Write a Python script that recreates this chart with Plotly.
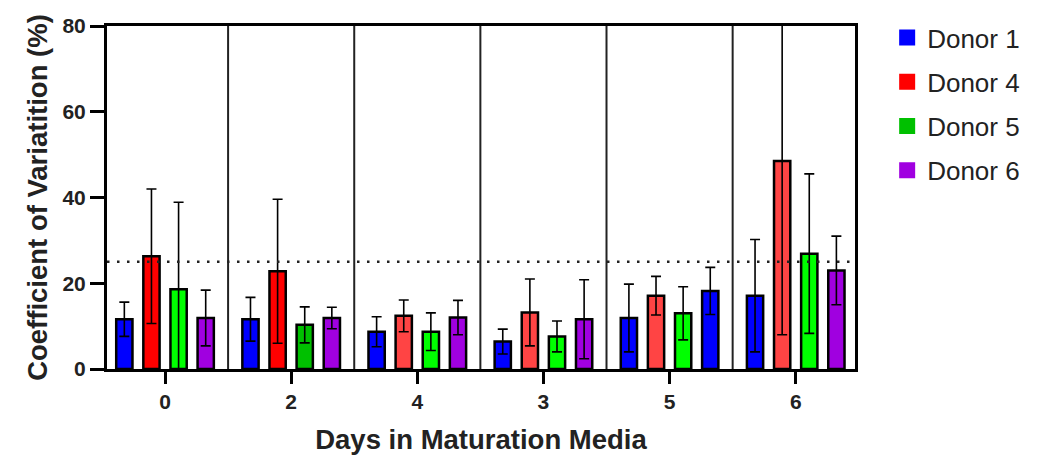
import plotly.graph_objects as go

days = ["0", "2", "4", "3", "5", "6"]
donors = ["Donor 1", "Donor 4", "Donor 5", "Donor 6"]

donor1 = [11.6, 11.6, 8.7, 6.4, 11.9, 17.1]
donor1_sd = [4.0, 5.1, 3.5, 2.9, 7.9, 13.1]
donor4 = [26.3, 22.8, 12.4, 13.2, 17.1, 48.5]
donor4_sd = [15.7, 16.8, 3.7, 7.8, 4.5, 40.5]
donor5 = [18.6, 10.3, 8.7, 7.6, 13.0, 26.9]
donor5_sd = [20.3, 4.2, 4.4, 3.6, 6.2, 18.6]
donor6 = [11.9, 11.9, 12.0, 11.6, 18.2, 23.0]
donor6_sd = [6.5, 2.5, 4.0, 9.2, 5.5, 8.0]

threshold = 25

legend_colors = ["#0000ff", "#ff0000", "#00c000", "#a000e0"]
bar_colors = [
    ["#0000ff"] * 6,
    ["#ff0000", "#ff0000", "#ff4444", "#ff4444", "#ff4444", "#ff4444"],
    ["#00ff00", "#00c000", "#00ff00", "#00ff00", "#00ff00", "#00ff00"],
    ["#a000e0", "#a000e0", "#a000e0", "#a000e0", "#0000ff", "#a000e0"],
]

values = [donor1, donor4, donor5, donor6]
sds = [donor1_sd, donor4_sd, donor5_sd, donor6_sd]

FONT = "Arial, Liberation Sans, sans-serif"

fig = go.Figure()
for i, name in enumerate(donors):
    fig.add_trace(go.Bar(
        x=days, y=values[i], name=name, showlegend=False,
        marker=dict(color=bar_colors[i], line=dict(color="black", width=2.5)),
        error_y=dict(type="data", array=sds[i], color="black", thickness=1.6, width=5),
        legendgroup=name,
    ))
for i, name in enumerate(donors):
    fig.add_trace(go.Scatter(
        x=[None], y=[None], mode="markers", name=name, legendgroup=name,
        marker=dict(symbol="square", size=17, color=legend_colors[i]),
    ))

shapes = []
for k in range(len(days) - 1):
    shapes.append(dict(type="line", xref="x", yref="y", x0=k + 0.5, x1=k + 0.5,
                       y0=0, y1=80, line=dict(color="#222222", width=2), layer="below"))
shapes.append(dict(type="line", xref="paper", yref="y", x0=0, x1=1, y0=threshold, y1=threshold,
                   line=dict(color="#222222", width=2.5, dash="2.5px,7.5px"), layer="above"))

fig.update_layout(
    width=1056, height=461,
    margin=dict(l=107, r=201, t=26, b=92),
    plot_bgcolor="white", paper_bgcolor="white",
    barmode="group", bargap=0.14, bargroupgap=0.40,
    shapes=shapes,
    font=dict(family=FONT, color="#222222"),
    legend=dict(x=1.043, y=1.035, xanchor="left", yanchor="top",
                font=dict(size=26, family=FONT, color="#222222"),
                tracegroupgap=7.5, itemsizing="trace"),
    xaxis=dict(
        type="category", range=[-0.46, 5.47],
        showline=True, linewidth=3, linecolor="black", mirror=True,
        ticks="outside", ticklen=12, tickwidth=3, tickcolor="black",
        tickfont=dict(size=21, family=FONT, weight="bold", color="#222222"),
        title=dict(text="Days in Maturation Media", standoff=18,
                   font=dict(size=27.5, family=FONT, weight="bold", color="#222222")),
        showgrid=False,
    ),
    yaxis=dict(
        range=[0, 80], tickvals=[0, 20, 40, 60, 80],
        showline=True, linewidth=3, linecolor="black", mirror=True,
        ticks="outside", ticklen=14, tickwidth=3, tickcolor="black",
        tickfont=dict(size=21, family=FONT, weight="bold", color="#222222"),
        title=dict(text="Coefficient of Variatition (%)", standoff=7,
                   font=dict(size=27.5, family=FONT, weight="bold", color="#222222")),
        showgrid=False, zeroline=False,
    ),
)

fig.write_html("out.html")
